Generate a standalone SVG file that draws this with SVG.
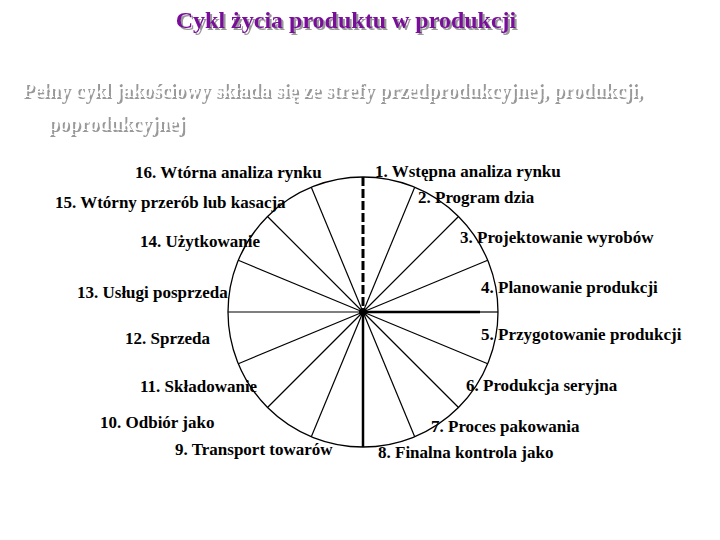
<svg xmlns="http://www.w3.org/2000/svg" width="720" height="540" viewBox="0 0 720 540">
<defs>
<filter id="sh" x="-5%" y="-20%" width="110%" height="150%"><feDropShadow dx="2" dy="2" stdDeviation="0.3" flood-color="#999"/></filter>
</defs>
<style>
.t{font-family:"Liberation Serif",serif;font-weight:bold;filter:url(#sh)}
.lb{font-family:"Liberation Serif",serif;font-weight:bold;font-size:17px;fill:#000}
.sp{stroke:#000;stroke-width:1.2}
</style>
<rect width="720" height="540" fill="#fff"/>
<text class="t" x="346" y="28" font-size="24" text-anchor="middle" fill="#7a0a9a">Cykl życia produktu w produkcji</text>
<text class="t" x="22" y="97" font-size="20" fill="#fff">Pełny cykl jakościowy składa się ze strefy przedprodukcyjnej, produkcji,</text>
<text class="t" x="48" y="130" font-size="20" fill="#fff">poprodukcyjnej</text>
<g id="wheel">
<circle cx="363" cy="312" r="135" fill="none" stroke="#000" stroke-width="1.3"/>
<g class="sp">
<line x1="363" y1="312" x2="414.7" y2="187.3"/>
<line x1="363" y1="312" x2="458.5" y2="216.5"/>
<line x1="363" y1="312" x2="487.7" y2="260.3"/>
<line x1="480" y1="312" x2="498" y2="312"/>
<line x1="363" y1="312" x2="487.7" y2="363.7"/>
<line x1="363" y1="312" x2="458.5" y2="407.5"/>
<line x1="363" y1="312" x2="414.7" y2="436.7"/>
<line x1="363" y1="312" x2="311.3" y2="436.7"/>
<line x1="363" y1="312" x2="267.5" y2="407.5"/>
<line x1="363" y1="312" x2="238.3" y2="363.7"/>
<line x1="363" y1="312" x2="228" y2="312"/>
<line x1="363" y1="312" x2="238.3" y2="260.3"/>
<line x1="363" y1="312" x2="267.5" y2="216.5"/>
<line x1="363" y1="312" x2="311.3" y2="187.3"/>
</g>
<line x1="363" y1="177" x2="363" y2="312" stroke="#000" stroke-width="3" stroke-dasharray="9,3"/>
<line x1="363" y1="312" x2="363" y2="447" stroke="#000" stroke-width="2.5"/>
<line x1="363" y1="312" x2="480" y2="312" stroke="#000" stroke-width="2.5"/>
<circle cx="363" cy="312" r="4" fill="#000"/>
</g>
<g id="labels">
<text class="lb" x="375" y="177">1. Wstępna analiza rynku</text>
<text class="lb" x="418" y="203">2. Program dzia</text>
<text class="lb" x="460" y="243">3. Projektowanie wyrobów</text>
<text class="lb" x="481" y="293">4. Planowanie produkcji</text>
<text class="lb" x="481" y="340">5. Przygotowanie produkcji</text>
<text class="lb" x="466" y="391">6. Produkcja seryjna</text>
<text class="lb" x="431" y="432">7. Proces pakowania</text>
<text class="lb" x="378" y="458">8. Finalna kontrola jako</text>
<text class="lb" x="175" y="455">9. Transport towarów</text>
<text class="lb" x="100" y="428">10. Odbiór jako</text>
<text class="lb" x="140" y="392">11. Składowanie</text>
<text class="lb" x="125" y="344">12. Sprzeda</text>
<text class="lb" x="77" y="298">13. Usługi posprzeda</text>
<text class="lb" x="140" y="247">14. Użytkowanie</text>
<text class="lb" x="55" y="208">15. Wtórny przerób lub kasacja</text>
<text class="lb" x="135" y="178">16. Wtórna analiza rynku</text>
</g>
</svg>
